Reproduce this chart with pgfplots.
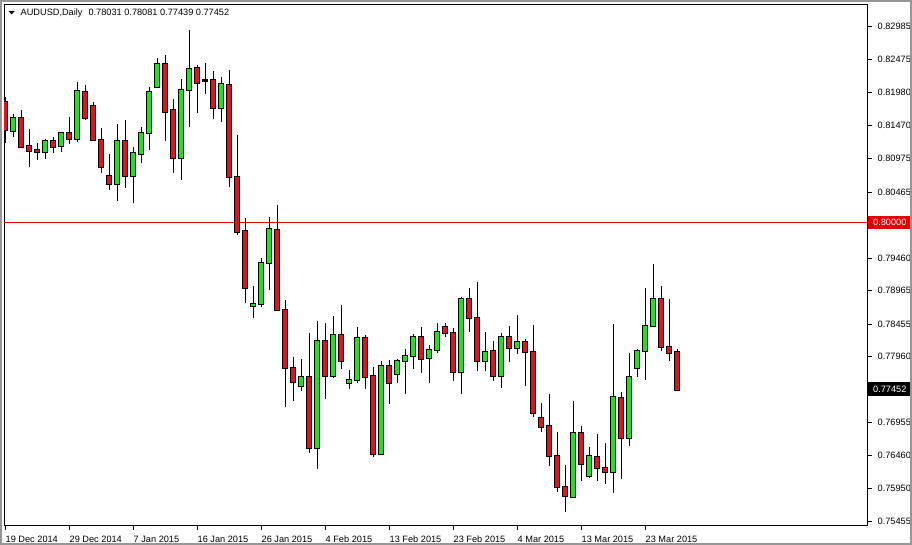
\documentclass[border=0pt]{standalone}
\usepackage{pgfplots}
\pgfplotsset{compat=1.18}
\usepackage{pgfplotstable}
\usepackage{fontspec}
\setmainfont{Liberation Sans}

\definecolor{bull}{RGB}{40,220,40}
\definecolor{bear}{RGB}{215,25,30}
\definecolor{level}{RGB}{225,0,0}
\definecolor{frame}{RGB}{150,150,150}

% daily AUDUSD candles, i = bar number from 19 Dec 2014
\pgfplotstableread{
i O H L C
0 0.81833 0.81909 0.81209 0.81407
1 0.81392 0.81650 0.81300 0.81589
2 0.81589 0.81711 0.81133 0.81148
3 0.81163 0.81422 0.80844 0.81087
4 0.81103 0.81209 0.80950 0.81072
5 0.81072 0.81270 0.80966 0.81239
6 0.81239 0.81300 0.81057 0.81148
7 0.81163 0.81370 0.81072 0.81361
8 0.81361 0.81604 0.81194 0.81270
9 0.81270 0.82137 0.81224 0.81999
10 0.81985 0.82091 0.81559 0.81589
11 0.81772 0.81833 0.81239 0.81255
12 0.81255 0.81437 0.80753 0.80844
13 0.80707 0.81042 0.80494 0.80585
14 0.80585 0.81498 0.80327 0.81239
15 0.81239 0.81559 0.80525 0.80707
16 0.80707 0.81148 0.80296 0.81057
17 0.81042 0.81452 0.80905 0.81361
18 0.81361 0.82061 0.81103 0.81985
19 0.82061 0.82502 0.82046 0.82411
20 0.82411 0.82547 0.81239 0.81681
21 0.81711 0.81878 0.80753 0.80981
22 0.80981 0.82182 0.80646 0.82015
23 0.82015 0.82928 0.81452 0.82335
24 0.82350 0.82395 0.81665 0.82122
25 0.82160 0.82426 0.81954 0.82160
26 0.82167 0.82304 0.81574 0.81741
27 0.81741 0.82213 0.81528 0.82106
28 0.82091 0.82319 0.80540 0.80692
29 0.80692 0.81331 0.79810 0.79855
30 0.79871 0.80068 0.78775 0.79004
31 0.78730 0.79034 0.78547 0.78760
32 0.78760 0.79460 0.78715 0.79384
33 0.79384 0.80083 0.78973 0.79901
34 0.79886 0.80266 0.78654 0.78669
35 0.78669 0.78821 0.77194 0.77787
36 0.77787 0.77954 0.77285 0.77574
37 0.77513 0.77924 0.77437 0.77650
38 0.77650 0.78319 0.76494 0.76570
39 0.76570 0.78502 0.76251 0.78197
40 0.78197 0.78471 0.77315 0.77665
41 0.77665 0.78578 0.77635 0.78289
42 0.78289 0.78745 0.77772 0.77893
43 0.77559 0.77756 0.77467 0.77604
44 0.77604 0.78410 0.77559 0.78243
45 0.78243 0.78289 0.77467 0.77650
46 0.77665 0.77802 0.76433 0.76479
47 0.76479 0.77893 0.76459 0.77817
48 0.77817 0.77908 0.77239 0.77559
49 0.77696 0.77924 0.77559 0.77893
50 0.77893 0.78076 0.77391 0.77969
51 0.77969 0.78304 0.77772 0.78258
52 0.78258 0.78410 0.77711 0.77924
53 0.77939 0.78137 0.77559 0.78061
54 0.78061 0.78471 0.78015 0.78334
55 0.78410 0.78471 0.78258 0.78319
56 0.78319 0.78395 0.77589 0.77726
57 0.77726 0.78867 0.77391 0.78836
58 0.78836 0.79004 0.78334 0.78547
59 0.78547 0.79095 0.77741 0.77893
60 0.77893 0.78334 0.77741 0.78030
61 0.78045 0.78197 0.77589 0.77665
62 0.77665 0.78319 0.77483 0.78258
63 0.78258 0.78426 0.77878 0.78091
64 0.78091 0.78593 0.78000 0.78182
65 0.78182 0.78228 0.77513 0.78030
66 0.78030 0.78441 0.77041 0.77102
67 0.77026 0.77254 0.76813 0.76889
68 0.76905 0.77391 0.76296 0.76448
69 0.76448 0.76813 0.75901 0.75977
70 0.75977 0.76311 0.75597 0.75840
71 0.75825 0.77285 0.75810 0.76798
72 0.76798 0.76905 0.76068 0.76327
73 0.76144 0.76585 0.76114 0.76448
74 0.76433 0.76783 0.76068 0.76266
75 0.76266 0.76646 0.76022 0.76205
76 0.76205 0.78456 0.75886 0.77346
77 0.77331 0.77422 0.76098 0.76722
78 0.76722 0.78015 0.76600 0.77650
79 0.77787 0.78076 0.77650 0.78045
80 0.78045 0.79004 0.77604 0.78426
81 0.78426 0.79369 0.78410 0.78836
82 0.78836 0.79034 0.78045 0.78106
83 0.78106 0.78836 0.77893 0.78015
84 0.78031 0.78081 0.77439 0.77452
}\candles

\begin{document}
\begin{tikzpicture}[font=\fontsize{9.2bp}{11bp}\selectfont]
\useasboundingbox (-4bp,-20bp) rectangle (908bp,525bp);
\fill[white] (-4bp,-20bp) rectangle (908bp,525bp);
\begin{axis}[
    at={(0,0)}, anchor=south west,
    width=863bp, height=521bp, scale only axis,
    xmin=-0.125, xmax=107.75,
    ymin=0.75399, ymax=0.83323,
    axis line style={line width=0.8bp},
    tick style={black, line width=0.8bp},
    tick align=outside,
    major tick length=4.5bp,
    xtick pos=left, ytick pos=right,
    xtick={0,8,...,80},
    xticklabels={19 Dec 2014,29 Dec 2014,7 Jan 2015,16 Jan 2015,26 Jan 2015,4 Feb 2015,13 Feb 2015,23 Feb 2015,4 Mar 2015,13 Mar 2015,23 Mar 2015},
    xticklabel style={anchor=north west, inner sep=0pt, xshift=0.5bp, yshift=-6bp},
    yticklabel pos=right,
    ytick={0.82985,0.82475,0.81980,0.81470,0.80975,0.80465,0.79460,0.78965,0.78455,0.77960,0.76955,0.76460,0.75950,0.75455},
    yticklabels={0.82985,0.82475,0.81980,0.81470,0.80975,0.80465,0.79460,0.78965,0.78455,0.77960,0.76955,0.76460,0.75950,0.75455},
    yticklabel style={anchor=west, inner sep=0pt, xshift=6bp},
    tick label style={font=\fontsize{9.2bp}{11bp}\selectfont},
]
% 0.8000 level
\addplot[level, line width=0.8bp] coordinates {(-0.125,0.8) (107.75,0.8)};
% wicks
\addplot[draw=none, mark=none, error bars/.cd, y dir=plus, y explicit, error mark=none,
    error bar style={draw=black, line width=0.9bp}]
    table[x=i, y=L, y error expr={\thisrow{H}-\thisrow{L}}] {\candles};
% body outlines
\addplot[draw=none, mark=none, error bars/.cd, y dir=plus, y explicit, error mark=none,
    error bar style={draw=black, line width=5.5bp}]
    table[x=i, y expr={min(\thisrow{O},\thisrow{C})-0.00016},
          y error expr={abs(\thisrow{C}-\thisrow{O})+0.00032}] {\candles};
% up bodies
\addplot[draw=none, mark=none, restrict expr to domain={\thisrow{C}-\thisrow{O}}{0:1},
    error bars/.cd, y dir=plus, y explicit, error mark=none,
    error bar style={draw=bull, line width=3.5bp}]
    table[x=i, y=O, y error expr={\thisrow{C}-\thisrow{O}}] {\candles};
% down bodies
\addplot[draw=none, mark=none, restrict expr to domain={\thisrow{O}-\thisrow{C}}{0.000001:1},
    error bars/.cd, y dir=plus, y explicit, error mark=none,
    error bar style={draw=bear, line width=3.5bp}]
    table[x=i, y=C, y error expr={\thisrow{O}-\thisrow{C}}] {\candles};
\end{axis}
% header
\fill (4.7bp,514bp) -- (10.7bp,514bp) -- (7.7bp,510.5bp) -- cycle;
\node[anchor=base west, inner sep=0pt] at (16.5bp,509bp)
    {AUDUSD,Daily\hspace{6bp}0.78031 0.78081 0.77439 0.77452};
% price boxes on the scale
\node[fill=level, text=white, anchor=west, inner xsep=5bp, inner ysep=0pt,
    minimum height=13bp, minimum width=43bp] at (864bp,302.5bp) {0.80000};
\node[fill=black, text=white, anchor=west, inner xsep=5bp, inner ysep=0pt,
    minimum height=14bp, minimum width=43bp] at (864bp,135.5bp) {0.77452};
\draw[frame, line width=2bp] (-3bp,-19bp) rectangle (907bp,524bp);
\end{tikzpicture}
\end{document}
